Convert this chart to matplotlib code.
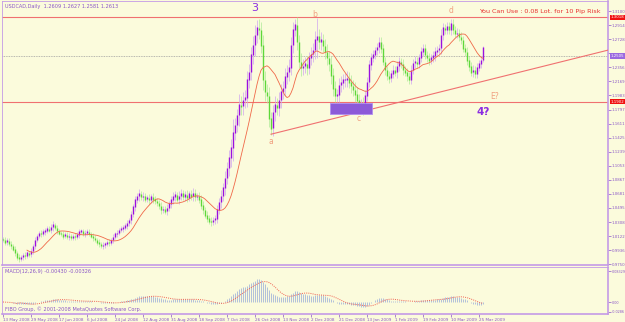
import matplotlib
matplotlib.use('Agg')
import matplotlib.pyplot as plt
import matplotlib.patches as mpatches
import numpy as np

# daily closes USDCAD (one per bar)
closes = [
    1.007, 1.004, 1.006, 1.002, 0.999, 0.995, 0.990, 0.984, 0.982, 0.984,
    0.987, 0.986, 0.990, 0.988, 0.992, 0.999, 1.007, 1.012, 1.016, 1.015,
    1.018, 1.019, 1.022, 1.020, 1.024, 1.027, 1.023, 1.019, 1.016, 1.015,
    1.012, 1.014, 1.011, 1.012, 1.010, 1.012, 1.011, 1.014, 1.018, 1.019,
    1.015, 1.016, 1.018, 1.015, 1.012, 1.010, 1.007, 1.004, 1.002, 0.999,
    1.000, 1.002, 1.004, 1.003, 1.007, 1.011, 1.015, 1.016, 1.020, 1.022,
    1.023, 1.026, 1.029, 1.033, 1.041, 1.051, 1.060, 1.065, 1.068, 1.064,
    1.065, 1.061, 1.063, 1.060, 1.064, 1.061, 1.059, 1.056, 1.052, 1.047,
    1.048, 1.045, 1.049, 1.055, 1.060, 1.064, 1.067, 1.061, 1.065, 1.069,
    1.064, 1.067, 1.063, 1.068, 1.065, 1.069, 1.064, 1.065, 1.061, 1.053,
    1.047, 1.040, 1.036, 1.032, 1.031, 1.033, 1.035, 1.047, 1.057, 1.065,
    1.076, 1.089, 1.102, 1.116, 1.129, 1.149, 1.159, 1.172, 1.186, 1.184,
    1.192, 1.195, 1.219, 1.229, 1.252, 1.265, 1.278, 1.288, 1.285, 1.265,
    1.219, 1.203, 1.198, 1.168, 1.155, 1.176, 1.186, 1.182, 1.192, 1.203,
    1.208, 1.223, 1.229, 1.235, 1.265, 1.285, 1.292, 1.269, 1.243, 1.235,
    1.237, 1.240, 1.235, 1.248, 1.253, 1.258, 1.272, 1.277, 1.269, 1.272,
    1.264, 1.256, 1.248, 1.240, 1.225, 1.208, 1.198, 1.199, 1.212, 1.215,
    1.219, 1.219, 1.221, 1.216, 1.211, 1.206, 1.200, 1.192, 1.184, 1.187,
    1.182, 1.198, 1.216, 1.239, 1.248, 1.252, 1.258, 1.262, 1.269, 1.261,
    1.243, 1.232, 1.224, 1.221, 1.227, 1.232, 1.229, 1.237, 1.243, 1.240,
    1.232, 1.229, 1.224, 1.219, 1.232, 1.241, 1.243, 1.240, 1.248, 1.256,
    1.261, 1.252, 1.248, 1.245, 1.248, 1.251, 1.256, 1.258, 1.261, 1.278,
    1.288, 1.285, 1.290, 1.285, 1.293, 1.285, 1.280, 1.281, 1.276, 1.272,
    1.261, 1.256, 1.245, 1.237, 1.229, 1.232, 1.227, 1.235, 1.240, 1.245,
    1.2613,
]
# wick beyond the body, in 0.001 units
wick_milli = [
    3, 4, 3, 3, 4, 3, 4, 3, 4, 3, 3, 4, 3, 3,
    4, 3, 4, 3, 3, 4, 3, 4, 3, 3, 4, 5,
    3, 4, 3, 3, 4, 3, 3, 4, 3, 3, 4, 3,
    4, 3, 3, 4, 3, 3,
    3, 4, 3, 3, 4, 3, 4, 3, 3, 4,
    3, 4, 3, 4, 3, 3, 4, 3, 4, 3,
    5, 4, 5, 4, 6, 4, 5, 4, 4, 5, 4, 5, 4, 4,
    4, 5, 4, 4, 5, 4, 5, 6, 5, 4, 7, 5, 4, 5, 6, 4, 5, 7, 5, 4, 5,
    5, 5, 4, 5, 4, 5, 4, 5, 6, 5,
    8, 7, 9, 8, 10, 12, 18, 10, 9, 14, 12, 11, 10, 12, 11, 10, 12, 14, 10, 12, 11, 13,
    12, 10, 11, 9, 10, 12, 9, 11, 10, 9, 11, 10, 12, 10, 11, 8, 10, 9, 11, 10,
    9, 10, 8, 9, 10, 12, 24, 9, 10, 8, 9, 10, 9, 11, 10, 9, 8, 10, 9, 8,
    9, 10, 8, 9, 8, 10, 9, 8, 7, 9, 8,
    7, 6, 7, 6, 5, 6, 7, 6, 5, 6, 5, 6, 5, 6, 5, 7, 6, 5, 6, 5,
    6, 5, 6, 5, 7, 6, 5, 6, 5, 6, 5, 6, 5, 6, 7, 6, 5, 8, 6, 5,
    6, 5, 7, 6, 5, 6, 5, 6, 5, 6, 7, 6, 5, 6, 5, 6, 5, 6, 2,
]
first_open = 1.008

date_labels = ['13 May 2008', '29 May 2008', '17 Jun 2008', '6 Jul 2008', '24 Jul 2008',
               '12 Aug 2008', '31 Aug 2008', '18 Sep 2008', '7 Oct 2008', '26 Oct 2008',
               '13 Nov 2008', '2 Dec 2008', '21 Dec 2008', '13 Jan 2009', '1 Feb 2009',
               '19 Feb 2009', '10 Mar 2009', '25 Mar 2009']
label_bars = [0, 14, 28, 42, 56, 70, 84, 98, 112, 126, 140, 154, 168, 182, 196, 210, 224, 238]

price_ticks = [1.3100, 1.2914, 1.2728, 1.2542, 1.2356, 1.2169, 1.1983, 1.1797, 1.1611,
               1.1425, 1.1239, 1.1053, 1.0867, 1.0681, 1.0495, 1.0308, 1.0122, 0.9936, 0.9750]

hlines_red = [1.3018, 1.1902]
hline_gray = 1.2505
trend_a = (134, 1.147)
trend_b = (240, 1.217)
zone = (163.5, 184.5, 1.1737, 1.1883)   # bar from, bar to, price low, price high

wave_marks = [('3', 126, 1.314, '#8a2be2', 8, 'normal'),
              ('b', 156, 1.3055, '#f0a080', 5.5, 'normal'),
              ('a', 134, 1.1375, '#f0a080', 5.5, 'normal'),
              ('c', 178, 1.1675, '#f0a080', 5.5, 'normal'),
              ('d', 224, 1.3105, '#f0a080', 5.5, 'normal'),
              ('E?', 246, 1.1963, '#f0a080', 5.5, 'normal'),
              ('4?', 240, 1.1765, '#8a2be2', 7.5, 'bold')]

W, H = 625, 322
bg = '#fbfbdc'
frame = '#c49ae6'
txt = '#8a55c8'
narrow = ['Liberation Sans Narrow', 'DejaVu Sans']


def box(l, t, r, b):
    return [l / W, 1 - b / H, (r - l) / W, (b - t) / H]


c = np.array(closes)
o = np.concatenate([[first_open], c[:-1]])
w = np.array(wick_milli) / 1000.0
hi = np.maximum(o, c) + w
lo = np.minimum(o, c) - w
x = np.arange(len(c))
up = c >= o

fig = plt.figure(figsize=(6.25, 3.22), dpi=100)
fig.patch.set_facecolor(bg)
ax = fig.add_axes(box(2, 1, 608, 265))
axm = fig.add_axes(box(2, 267, 608, 314))

for a in (ax, axm):
    a.set_facecolor(bg)
    for s in a.spines.values():
        s.set_color(frame)
        s.set_linewidth(0.6)
    a.spines['right'].set_linewidth(1.2)
    a.spines['bottom'].set_linewidth(1.2)
    a.set_xlim(-0.5, 302.5)

# candles
ax.vlines(x[up], lo[up], hi[up], color='#cfa6f0', lw=0.5, zorder=2)
ax.vlines(x[~up], lo[~up], hi[~up], color='#aeea98', lw=0.5, zorder=2)
ax.vlines(x[up], o[up], c[up] + 0.0006, color='#9a10e0', lw=1.0, zorder=3)
ax.vlines(x[~up], c[~up] - 0.0006, o[~up], color='#5ed83a', lw=1.0, zorder=3)

# 13 bar simple moving average
n = 13
ma = np.convolve(c, np.ones(n) / n, mode='valid')
ax.plot(x[n - 1:], ma, color='#f06848', lw=0.6, zorder=4)

for p in hlines_red:
    ax.axhline(p, color='#f07070', lw=0.8, zorder=1)
ax.axhline(hline_gray, color='#a0a0a0', lw=0.6, ls=(0, (1, 1)), zorder=1)
slope = (trend_b[1] - trend_a[1]) / (trend_b[0] - trend_a[0])
x_end = 302.5
ax.plot([trend_a[0], x_end], [trend_a[1], trend_a[1] + slope * (x_end - trend_a[0])],
        color='#f07070', lw=0.8, zorder=5)
ax.add_patch(mpatches.Rectangle((zone[0], zone[2]), zone[1] - zone[0], zone[3] - zone[2],
                                facecolor='#8c5ad8', edgecolor='#b08ef0', lw=0.6, zorder=6))

for t, bx, py, col, fs, fw in wave_marks:
    ax.text(bx, py, t, color=col, fontsize=fs, fontweight=fw, ha='center', va='center', zorder=7)

ax.text(0.005, 0.99, 'USDCAD,Daily  1.2609 1.2627 1.2581 1.2613', transform=ax.transAxes,
        fontsize=3.6, color=txt, va='top', ha='left', family=narrow)
ax.text(0.988, 0.962, 'You Can Use : 0.08 Lot. for 10 Pip Risk', transform=ax.transAxes,
        fontsize=4.6, color='#e83030', va='center', ha='right', family=narrow)

# price scale; the value boxes on the right cover the tick they sit on
boxes = [(1.3018, '#f01010'), (1.1902, '#f01010'), (hline_gray, '#9a6ae0')]
ax.set_ylim(0.9739, 1.3233)
ax.yaxis.tick_right()
ax.set_yticks(price_ticks)
ax.set_yticklabels(['' if p == 1.2542 else '%.4f' % p for p in price_ticks], family=narrow)
ax.tick_params(axis='y', labelsize=2.8, colors=txt, length=2, width=0.5, pad=0.8)
ax.set_xticks([])

yt = ax.get_yaxis_transform()
for p, fc in boxes:
    ax.text(1.004, p, '%.4f' % p, transform=yt, fontsize=2.8, color='white', va='center',
            ha='left', family=narrow, bbox=dict(fc=fc, ec='none', pad=0.5), zorder=8, clip_on=False)

# MACD panel
ef = np.array(closes, dtype=float)
es = np.array(closes, dtype=float)
kf, ks = 2 / (12 + 1), 2 / (26 + 1)
for i in range(1, len(c)):
    ef[i] = ef[i - 1] + kf * (c[i] - ef[i - 1])
    es[i] = es[i - 1] + ks * (c[i] - es[i - 1])
macd = ef - es
sig = np.convolve(macd, np.ones(9) / 9, mode='full')[:len(macd)]
sig[:8] = macd[:8]
axm.vlines(x, 0, macd, color='#a6b6da', lw=0.6)
axm.plot(x, sig, color='#f06050', lw=0.7, ls=(0, (1, 1.2)))
peak = macd.max()
top, bottom = peak * 35 / 23, -peak * 12 / 23
axm.set_ylim(bottom, top)
axm.yaxis.tick_right()
axm.set_yticks([top * 0.88, 0, bottom * 0.8])
axm.set_yticklabels(['%.5f' % top, '0.00', '%.4f' % bottom], family=narrow)
axm.tick_params(axis='y', labelsize=2.4, colors=txt, length=2, width=0.5, pad=0.6)
axm.text(0.005, 0.95, 'MACD(12,26,9) %.5f %.5f' % (macd[-1], sig[-1]), transform=axm.transAxes,
         fontsize=3.6, color=txt, va='top', family=narrow)
axm.text(0.005, 0.04, 'FIBO Group, \u00a9 2001-2008 MetaQuotes Software Corp.', transform=axm.transAxes,
         fontsize=3.6, color=txt, va='bottom', family=narrow)
axm.set_xticks(label_bars)
axm.set_xticklabels(date_labels, ha='left', family=narrow)
axm.tick_params(axis='x', labelsize=3.0, colors=txt, length=2, width=0.5, pad=0.8)

fig.savefig('out.png', dpi=100, facecolor=bg)
